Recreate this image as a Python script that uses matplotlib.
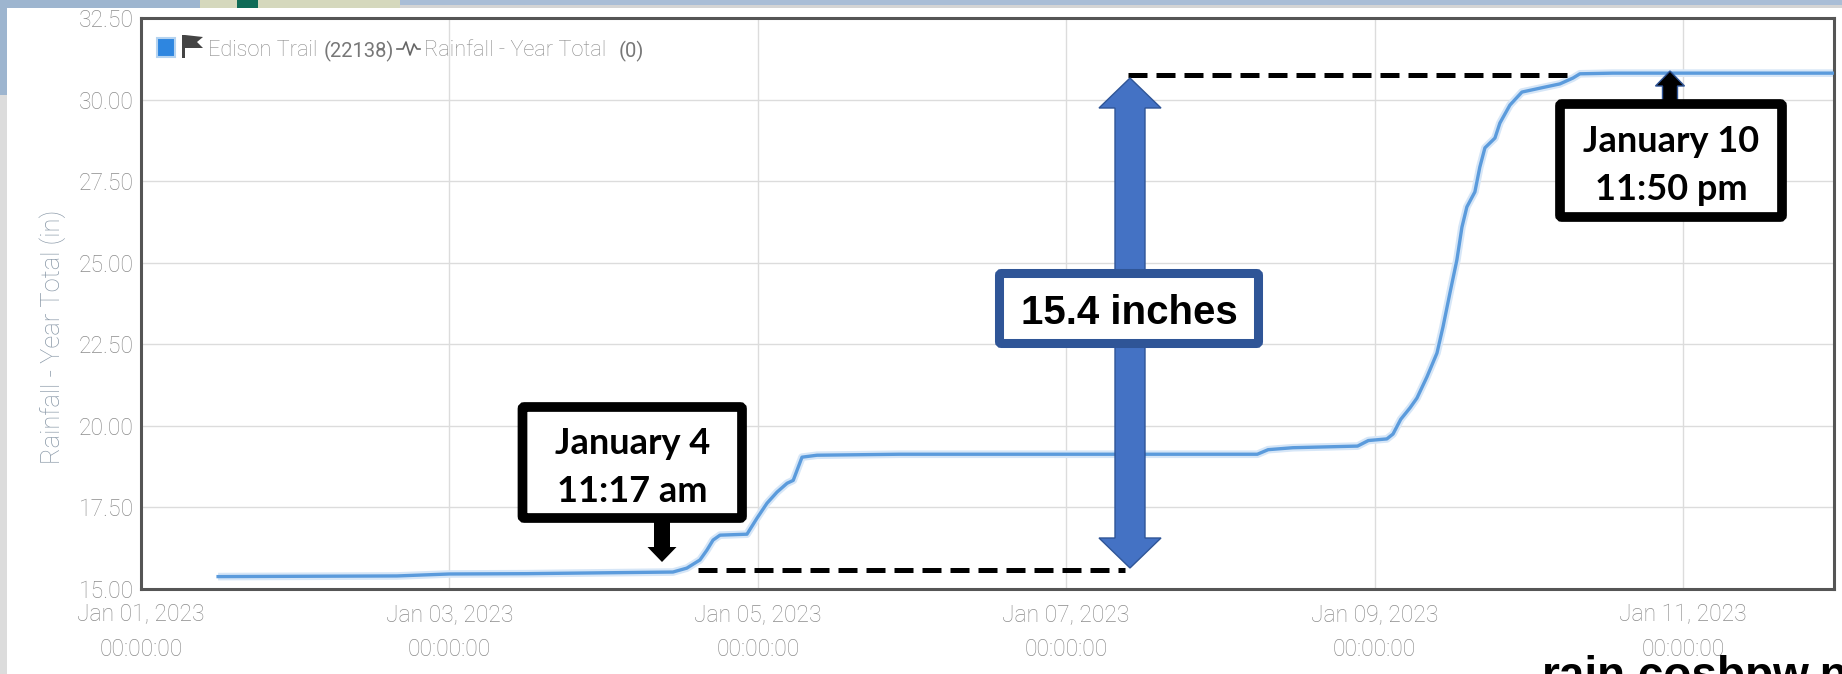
import matplotlib
matplotlib.use("Agg")
import matplotlib.pyplot as plt
import matplotlib.dates as mdates
from matplotlib.lines import Line2D
from matplotlib.patches import Rectangle, FancyArrow, FancyBboxPatch, Polygon
from datetime import datetime, timedelta

# rainfall gauge curve
start = datetime(2023, 1, 1)
elapsed_days = [0.50, 1.66, 2.00, 2.50, 3.45, 3.54, 3.625, 3.67, 3.71, 3.755, 3.93, 3.995,
                4.06, 4.125, 4.19, 4.23, 4.287, 4.384, 4.92, 7.24, 7.31, 7.47, 7.89,
                7.96, 8.08, 8.12, 8.17, 8.23, 8.275, 8.34, 8.405, 8.444, 8.489, 8.534,
                8.567, 8.599, 8.651, 8.683, 8.716, 8.781, 8.813, 8.878, 8.956, 9.073,
                9.202, 9.287, 9.332, 9.546, 10.98]
rainfall = [15.38, 15.40, 15.46, 15.47, 15.52, 15.64, 15.89, 16.19, 16.50, 16.65, 16.68, 17.17,
            17.63, 17.97, 18.24, 18.33, 19.04, 19.10, 19.13, 19.13, 19.27, 19.33, 19.38,
            19.55, 19.60, 19.75, 20.20, 20.55, 20.85, 21.50, 22.23, 23.03, 24.07, 25.08,
            26.09, 26.71, 27.17, 27.93, 28.52, 28.82, 29.28, 29.83, 30.23, 30.35,
            30.48, 30.66, 30.79, 30.81, 30.81]
y_ticks = [15, 17.5, 20, 22.5, 25, 27.5, 30, 32.5]
x_tick_days = [1, 3, 5, 7, 9, 11]
total_label = "15.4 inches"
start_label = "January 4\n11:17 am"
end_label = "January 10\n11:50 pm"

dates = [start + timedelta(days=d) for d in elapsed_days]
W, H = 1842, 674

fig = plt.figure(figsize=(W / 100, H / 100), dpi=100, facecolor="white")
ax = fig.add_axes([141 / W, 1 - 589 / H, (1834 - 141) / W, (589 - 18) / H])


def px_rect(x, y, w, h, color, z=0):
    fig.patches.append(Rectangle((x / W, 1 - (y + h) / H), w / W, h / H, transform=fig.transFigure,
                                 facecolor=color, edgecolor="none", zorder=z))


# slide background behind the screenshot
px_rect(0, 0, 7, 674, "#dcdcdc")
px_rect(0, 0, 7, 95, "#9db5cf")
px_rect(0, 0, 200, 8, "#9db5cf")
px_rect(200, 0, 200, 8, "#d5d8bd")
px_rect(237, 0, 21, 8, "#0f6b57")
px_rect(400, 0, 1442, 5, "#a9bdd6")
px_rect(400, 5, 1442, 3, "#d4d4d4")

ax.set_xlim(mdates.date2num(datetime(2023, 1, 1)), mdates.date2num(datetime(2023, 1, 1)) + 10.98)
ax.set_ylim(15, 32.5)
ax.grid(color="#dcdcdc", lw=1)
ax.set_axisbelow(True)
ax.plot(dates, rainfall, color="#d6e6f7", lw=5.5, solid_capstyle="butt", zorder=2)
ax.plot(dates, rainfall, color="#5b9bdc", lw=2.4, zorder=3)

ax.set_yticks(y_ticks)
ax.set_yticklabels([f"{v:.2f}" for v in y_ticks])
tick_dates = [datetime(2023, 1, d) for d in x_tick_days]
ax.set_xticks(mdates.date2num(tick_dates))
ax.set_xticklabels([d.strftime("%b %d, %Y") + "\n00:00:00" for d in tick_dates], linespacing=1.62)
ax.tick_params(length=0, colors="#8c8c8c", labelsize=16.5)
ax.tick_params(axis="x", pad=10.5)
ax.tick_params(axis="y", pad=5)
for t in ax.get_xticklabels() + ax.get_yticklabels():
    t.set_fontfamily("Roboto")
    t.set_fontweight("light")
ax.set_ylabel("Rainfall - Year Total (in)", color="#8a99a8", fontsize=18.4, family="Roboto",
              fontweight="light", labelpad=9)
ax.yaxis.label.set_y(0.442)
for s in ax.spines.values():
    s.set_color("#555555")
    s.set_linewidth(2.2)

# legend strip
fig.patches.append(Rectangle((157 / W, 1 - 57 / H), 18 / W, 19 / H, transform=fig.transFigure,
                             facecolor="#2e86e0", edgecolor="#b5d3f0", linewidth=1.5, zorder=5))
fig.patches.append(Polygon([(182, H - 35), (185, H - 35), (185, H - 58), (182, H - 58)], transform=None,
                           facecolor="#444444", edgecolor="none", zorder=5))
fig.patches.append(Polygon([(185, H - 35), (203, H - 37), (197, H - 42), (203, H - 48), (185, H - 48)],
                           transform=None, facecolor="#444444", edgecolor="none", zorder=5))
fig.text(208 / W, 1 - 51 / H, "Edison Trail", color="#8c8c8c", fontsize=15.7, family="Roboto", va="center",
         fontweight="light")
fig.text(324 / W, 1 - 51 / H, "(22138)", color="#777777", fontsize=14.5, family="Roboto", va="center")
fig.add_artist(Line2D([397, 403, 406, 410, 414, 417, 420], [H - 49, H - 49, H - 42, H - 55, H - 44, H - 49, H - 49],
                      transform=None, color="#666666", lw=1.2))
fig.text(424 / W, 1 - 51 / H, "Rainfall - Year Total", color="#8c8c8c", fontsize=15.7, family="Roboto",
         va="center", fontweight="light")
fig.text(619 / W, 1 - 51 / H, "(0)", color="#777777", fontsize=14.5, family="Roboto", va="center")

# dashed reference lines, from the curve to the big arrow
d_low = mdates.date2num(start + timedelta(days=3.61))
d_low_end = mdates.date2num(start + timedelta(days=6.38))
d_mid = mdates.date2num(start + timedelta(days=6.40))
d_top = mdates.date2num(start + timedelta(days=9.28))
ax.plot([d_low, d_low_end], [15.58, 15.58], color="black", lw=3.6, dashes=(3.8, 1.8), zorder=6)
ax.plot([d_mid, d_top], [30.76, 30.76], color="black", lw=3.6, dashes=(3.8, 1.8), zorder=6)


def px_arrow(x0, y0, x1, y1, width, head_w, head_l, face, edge="none"):
    fig.patches.append(FancyArrow(x0, H - y0, x1 - x0, -(y1 - y0), width=width, head_width=head_w,
                                  head_length=head_l, length_includes_head=True,
                                  transform=None, facecolor=face, edgecolor=edge, zorder=7))


def px_box(x0, y0, x1, y1, lw, edge, label, size, family="Lato", spacing=1.58):
    fig.patches.append(FancyBboxPatch((x0, H - y1), x1 - x0, y1 - y0, boxstyle="round,pad=0,rounding_size=2",
                                      transform=None, facecolor="white", edgecolor=edge, linewidth=lw, zorder=8))
    # nudge down a little, centre of the text block sits high otherwise
    fig.text((x0 + x1) / 2 / W, 1 - ((y0 + y1) / 2 + 5) / H, label, ha="center", va="center", fontsize=size,
             family=family, fontweight="bold", color="black", zorder=9, linespacing=spacing)


# big double arrow
px_arrow(1130, 300, 1130, 78, 30, 62, 30, "#4472c4", "#2f5597")
px_arrow(1130, 300, 1130, 568, 30, 62, 30, "#4472c4", "#2f5597")
px_box(999.5, 273.5, 1258.5, 343.5, 6.5, "#2f5597", total_label, 29, family="Liberation Sans")

# callouts
px_arrow(662, 520, 662, 562, 16, 29, 15, "black")
px_box(522.5, 407, 742, 518, 7, "black", start_label, 26)
px_arrow(1670, 110, 1670, 71, 15, 29, 15, "black", "#2f5597")
px_box(1560, 104, 1782, 217, 7, "black", end_label, 26)

# site address, runs off the bottom edge of the slide
fig.text(1542 / W, 1 - 689 / H, "rain.cosbpw.net", fontsize=33, family="Liberation Sans", fontweight="bold",
         color="black", va="baseline", zorder=9)

fig.savefig("out.png", dpi=100)
